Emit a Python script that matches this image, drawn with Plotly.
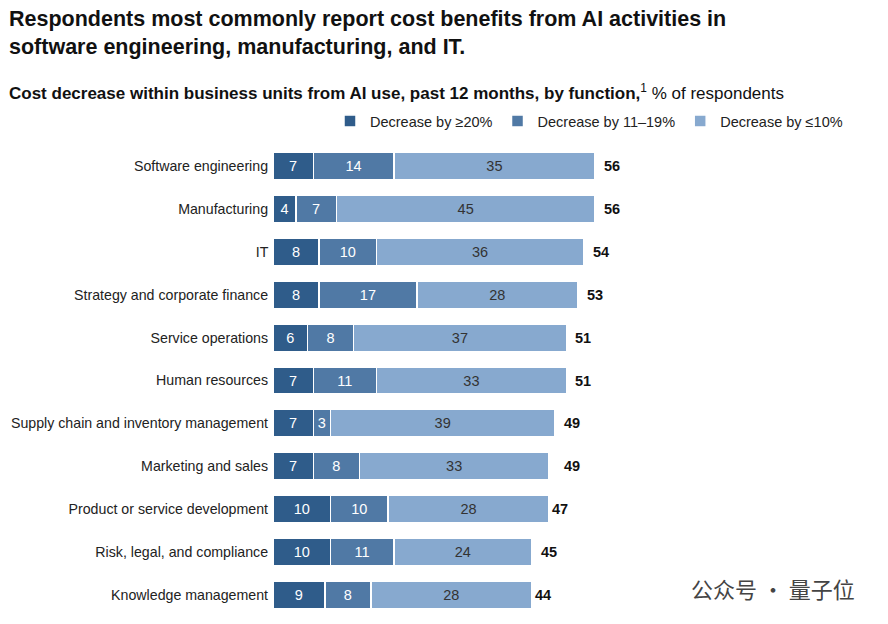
import plotly.graph_objects as go

categories = ["Software engineering", "Manufacturing", "IT", "Strategy and corporate finance",
              "Service operations", "Human resources", "Supply chain and inventory management",
              "Marketing and sales", "Product or service development", "Risk, legal, and compliance",
              "Knowledge management"]
dec20 = [7, 4, 8, 8, 6, 7, 7, 7, 10, 10, 9]
dec11_19 = [14, 7, 10, 17, 8, 11, 3, 8, 10, 11, 8]
dec10 = [35, 45, 36, 28, 37, 33, 39, 33, 28, 24, 28]
totals = [56, 56, 54, 53, 51, 51, 49, 49, 47, 45, 44]

series = [("Decrease by ≥20%", dec20, "#2f5c8a", "white"),
          ("Decrease by 11–19%", dec11_19, "#5079a5", "white"),
          ("Decrease by ≤10%", dec10, "#87a9cf", "#333333")]

OFF = 9  # page offset
L, T, W, H = 274 - OFF, 146 - OFF, 575, 471

def py(pix):  # page pixel y -> paper y
    return 1 - (pix - OFF - T) / H

def px(pix):
    return (pix - OFF - L) / W

fig = go.Figure()
for name, vals, col, tc in series:
    fig.add_trace(go.Bar(y=categories, x=vals, name=name, orientation="h",
                         marker=dict(color=col, line=dict(color="white", width=1.5)),
                         text=vals, textposition="inside", insidetextanchor="middle",
                         textfont=dict(color=tc, size=14.5, family="Liberation Sans"),
                         textangle=0, constraintext="none"))

annotations = [dict(x=t, y=c, xref="x", yref="y", text=f"<b>{t}</b>", showarrow=False,
                    xanchor="left", xshift=7, font=dict(size=14.5, color="#111"))
               for c, t in zip(categories, totals)]
annotations += [
    dict(text="<b>Respondents most commonly report cost benefits from AI activities in<br>software engineering, manufacturing, and IT.</b>",
         xref="paper", yref="paper", x=px(8), y=py(6), xanchor="left", yanchor="top",
         align="left", showarrow=False, font=dict(size=21.5, color="#111")),
    dict(text="<b>Cost decrease within business units from AI use, past 12 months, by function,</b><sup>1</sup> % of respondents",
         xref="paper", yref="paper", x=px(8), y=py(93), xanchor="left", yanchor="middle",
         align="left", showarrow=False, font=dict(size=17, color="#111")),
    dict(text="公众号 · 量子位", xref="paper", yref="paper", x=px(858), y=py(589),
         xanchor="right", yanchor="middle", showarrow=False,
         font=dict(size=22, color="#444", family="Noto Sans CJK SC")),
]

fig.update_layout(
    barmode="stack", bargap=0.36, width=888, height=624,
    plot_bgcolor="white", paper_bgcolor="white",
    margin=dict(l=L, r=888 - L - W, t=T, b=624 - T - H, autoexpand=False),
    font=dict(family="Liberation Sans", size=14, color="#222"),
    xaxis=dict(range=[0, 100], visible=False, automargin=False),
    yaxis=dict(autorange="reversed", showline=False, showgrid=False, ticks="", automargin=False,
               tickfont=dict(size=14.2, color="#222"), ticksuffix=" "),
    legend=dict(orientation="h", x=1.0, xanchor="right", y=py(122), yanchor="middle",
                font=dict(size=14.5), traceorder="normal", itemwidth=30, tracegroupgap=0),
    annotations=annotations,
)
fig.write_html("out.html")
